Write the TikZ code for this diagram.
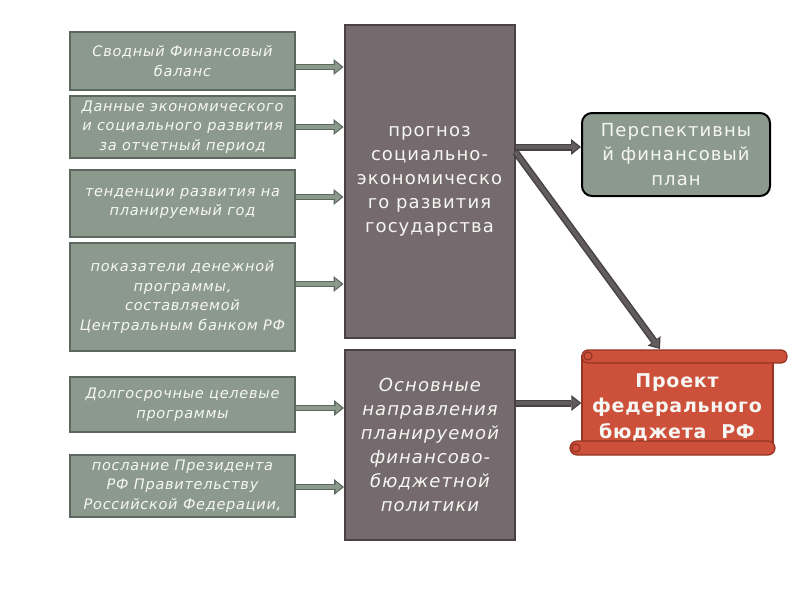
\documentclass[tikz,border=0pt]{standalone}
\usepackage{fontspec}
\setmainfont{DejaVu Sans}
\newfontfamily\lspaced[LetterSpace=5]{DejaVu Sans}
\newfontfamily\cspaced[LetterSpace=6]{DejaVu Sans}
\newfontfamily\bspaced[LetterSpace=4]{DejaVu Sans}
\usetikzlibrary{arrows.meta}
\definecolor{lbox}{RGB}{140,154,142}
\definecolor{lboxd}{RGB}{92,104,95}
\definecolor{cbox}{RGB}{117,106,110}
\definecolor{cboxd}{RGB}{72,66,68}
\definecolor{redb}{RGB}{204,80,58}
\definecolor{redd}{RGB}{150,52,36}
\definecolor{txtw}{RGB}{246,246,242}
\definecolor{arrd}{RGB}{98,92,94}
\definecolor{arrdo}{RGB}{70,66,68}
\tikzset{
  leftbox/.style={draw=lboxd, line width=2pt, fill=lbox, text=txtw, minimum width=225, align=center, font=\lspaced\fontsize{14.5}{19.5}\selectfont\itshape, inner sep=0pt},
  centerbox/.style={draw=cboxd, line width=2pt, fill=cbox, text=txtw, minimum width=170, align=center, inner sep=0pt},
  loutline/.style={draw=lboxd, line width=6.5pt, -{Triangle[length=10pt,width=16pt,line width=0pt]}},
  linner/.style={draw=lbox, line width=3.5pt, shorten >=2pt, -{Triangle[length=6.5pt,width=11pt,line width=0pt]}},
  routline/.style={draw=arrdo, line width=7pt, -{Triangle[length=10pt,width=16pt,line width=0pt]}},
  rinner/.style={draw=arrd, line width=4pt, shorten >=2pt, -{Triangle[length=7pt,width=11pt,line width=0pt]}},
}
\newcommand\leftarr[2]{\draw[loutline] #1 -- #2; \draw[linner] #1 -- #2;}
\newcommand\rightarr[2]{\draw[routline] #1 -- #2; \draw[rinner] #1 -- #2;}
\begin{document}
\begin{tikzpicture}[x=1pt,y=-1pt]
\useasboundingbox[fill=white] (0,0) rectangle (800,600);
% left boxes
\node[leftbox, minimum height=58] (b1) at (182.5,61) {Сводный Финансовый\\баланс};
\node[leftbox, minimum height=62] (b2) at (182.5,127) {Данные экономического\\и социального развития\\за отчетный период};
\node[leftbox, minimum height=67] (b3) at (182.5,203.5) {тенденции развития на\\планируемый год};
\node[leftbox, minimum height=108] (b4) at (182.5,297) {показатели денежной\\программы,\\составляемой\\Центральным банком РФ};
\node[leftbox, minimum height=55] (b5) at (182.5,404.5) {Долгосрочные целевые\\программы};
\node[leftbox, minimum height=62] (b6) at (182.5,486) {послание Президента\\РФ Правительству\\Российской Федерации,};
% center boxes
\node[centerbox, minimum height=313, font=\cspaced\fontsize{18}{24}\selectfont] (c1) at (429.5,181.5) {прогноз\\социально-\\экономическо\\го развития\\государства};
\node[centerbox, minimum height=190, font=\cspaced\fontsize{18}{24}\selectfont\itshape] (c2) at (430,445) {Основные\\направления\\планируемой\\финансово-\\бюджетной\\политики};
% right rounded box
\node[draw=black, line width=2pt, fill=lbox, rounded corners=10pt, minimum width=188, minimum height=83, text=txtw, align=center, font=\cspaced\fontsize{18}{24.5}\selectfont, inner sep=0pt] (r1) at (676,154.5) {Перспективны\\й финансовый\\план};
% scroll
\begin{scope}[draw=redd, line width=1.2pt, fill=redb]
\filldraw (582,356) rectangle (773,448);
\filldraw[rounded corners=6] (582,350) rectangle (787,363);
\filldraw[rounded corners=7] (570,441) rectangle (775,455);
\draw (588,356) circle (4);
\draw (576,448) circle (4);
\end{scope}
\node[minimum width=191, minimum height=92, inner sep=0pt, text=txtw, align=center, font=\bspaced\fontsize{19}{25.5}\selectfont\bfseries] (s) at (677,407) {Проект\\федерального\\бюджета~~РФ};
\coordinate (stop) at (660,349);
% arrow levels
\coordinate (y1) at (0,67);
\coordinate (y2) at (0,127);
\coordinate (y3) at (0,197);
\coordinate (y4) at (0,284);
\coordinate (y5) at (0,408);
\coordinate (y6) at (0,487);
\coordinate (yr) at (0,147);
\coordinate (ys) at (0,403);
\leftarr{(b1.east |- y1)}{(c1.west |- y1)}
\leftarr{(b2.east |- y2)}{(c1.west |- y2)}
\leftarr{(b3.east |- y3)}{(c1.west |- y3)}
\leftarr{(b4.east |- y4)}{(c1.west |- y4)}
\leftarr{(b5.east |- y5)}{(c2.west |- y5)}
\leftarr{(b6.east |- y6)}{(c2.west |- y6)}
\rightarr{(c1.east |- yr)}{(r1.west |- yr)}
\rightarr{([yshift=-5pt]c1.east |- yr)}{(stop)}
\rightarr{(c2.east |- ys)}{(s.west |- ys)}
\end{tikzpicture}
\end{document}
